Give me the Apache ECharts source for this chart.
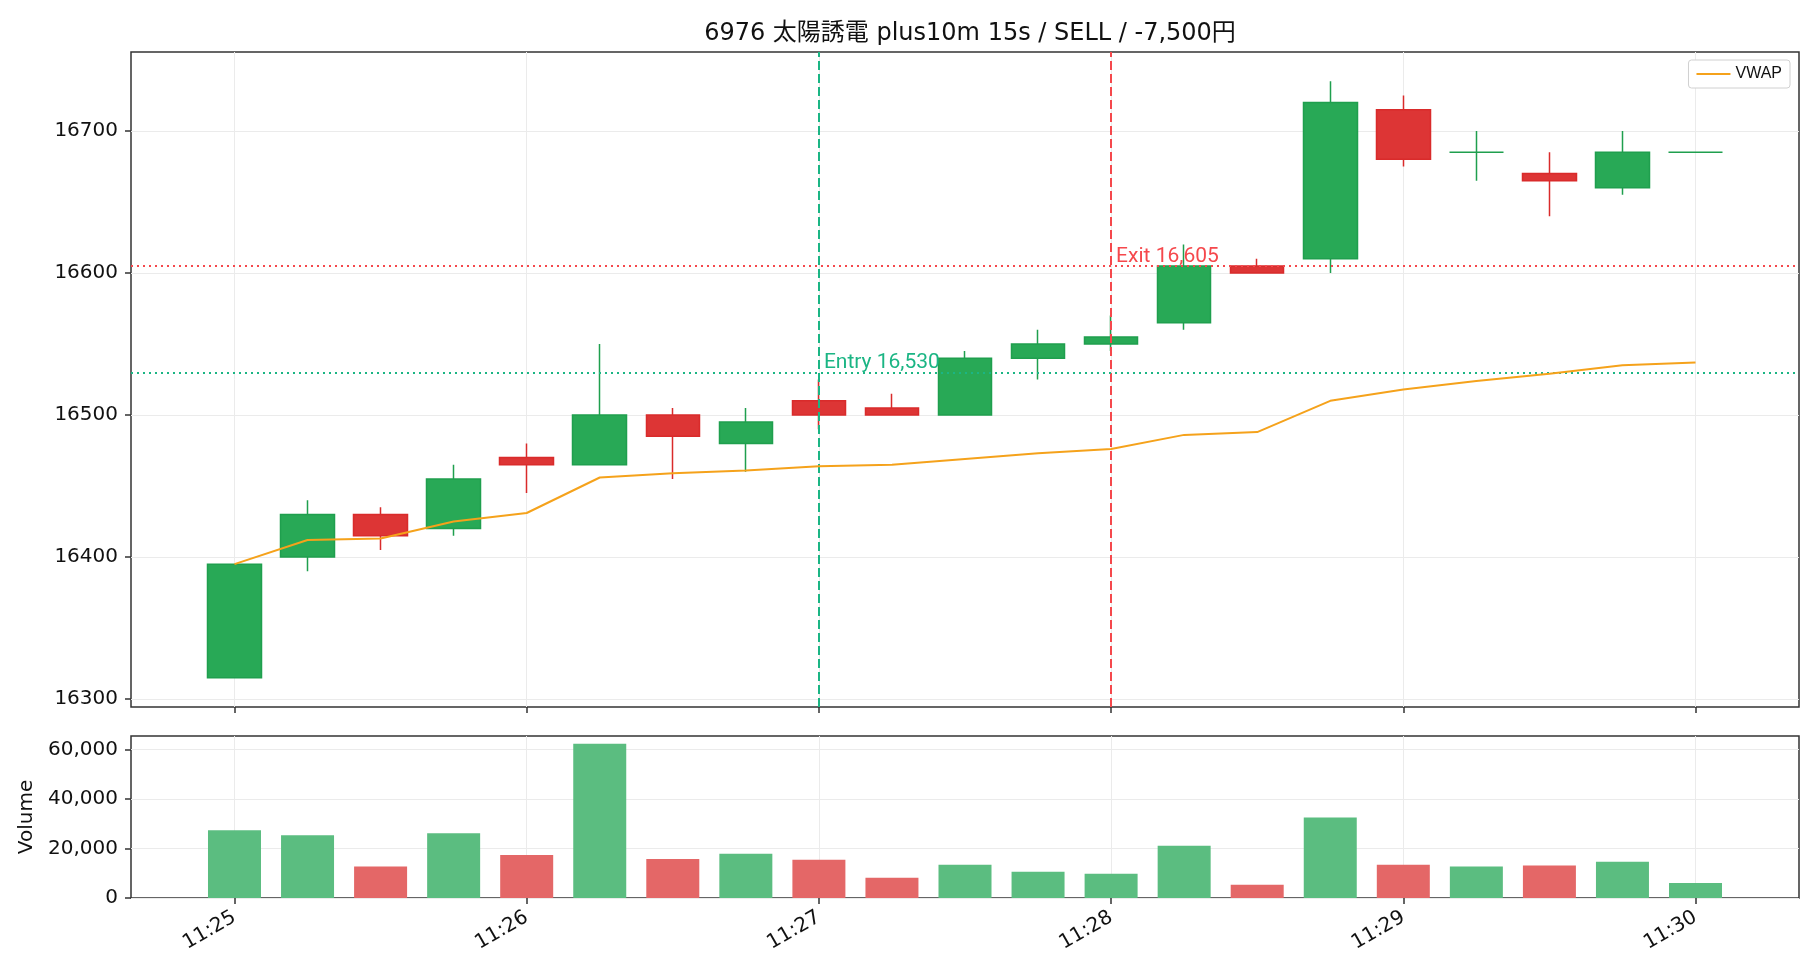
<!DOCTYPE html>
<html>
<head>
<meta charset="utf-8">
<title>6976 plus10m</title>
<script src="https://cdn.jsdelivr.net/npm/echarts@6/dist/echarts.min.js"></script>
<style>
html, body { margin: 0; padding: 0; background: #fff; }
#chart { width: 1820px; height: 980px; }
</style>
</head>
<body>
<div id="chart"></div>
<script>
// 15s bars, 11:25 - 11:30
var times = ['11:25:00', '11:25:15', '11:25:30', '11:25:45', '11:26:00', '11:26:15', '11:26:30',
    '11:26:45', '11:27:00', '11:27:15', '11:27:30', '11:27:45', '11:28:00', '11:28:15',
    '11:28:30', '11:28:45', '11:29:00', '11:29:15', '11:29:30', '11:29:45', '11:30:00'];
var opens  = [16315, 16400, 16430, 16420, 16470, 16465, 16500, 16480, 16510, 16505, 16500,
    16540, 16550, 16565, 16605, 16610, 16715, 16685, 16670, 16660, 16685];
var closes = [16395, 16430, 16415, 16455, 16465, 16500, 16485, 16495, 16500, 16500, 16540,
    16550, 16555, 16605, 16600, 16720, 16680, 16685, 16665, 16685, 16685];
var lows   = [16315, 16390, 16405, 16415, 16445, 16465, 16455, 16460, 16490, 16500, 16500,
    16525, 16545, 16560, 16600, 16600, 16675, 16665, 16640, 16655, 16685];
var highs  = [16395, 16440, 16435, 16465, 16480, 16550, 16505, 16505, 16525, 16515, 16545,
    16560, 16570, 16620, 16610, 16735, 16725, 16700, 16685, 16700, 16685];
var volumes = [27400, 25400, 12700, 26200, 17400, 62400, 15800, 17900, 15500, 8200, 13400,
    10600, 9800, 21100, 5400, 32500, 13400, 12700, 13100, 14700, 6100];
var vwap = [16395, 16412, 16413, 16425, 16431, 16456, 16459, 16461, 16464, 16465, 16469,
    16473, 16476, 16486, 16488, 16510, 16518, 16524, 16529, 16535, 16537];

var priceTicks = [16300, 16400, 16500, 16600, 16700];
var volumeTicks = [0, 20000, 40000, 60000];
var timeTicks = ['11:25', '11:26', '11:27', '11:28', '11:29', '11:30'];

var entryTime = '11:27:00', entryPrice = 16530;
var exitTime = '11:28:00', exitPrice = 16605;
var titleText = '6976 太陽誘電 plus10m 15s / SELL / -7,500円';

var GREEN = '#28a956', RED = '#dd3535';
var VOL_GREEN = '#5bbd80', VOL_RED = '#e46767';
var ENTRY_C = '#1bb584', EXIT_C = '#f5484c';

// seconds since 11:25:00
function toSec(t) {
    var p = t.split(':');
    return (+p[0] * 3600 + +p[1] * 60 + (+p[2] || 0)) - (11 * 3600 + 25 * 60);
}
function fmtTime(v) {
    var m = 25 + Math.round(v / 60);
    return '11:' + (m < 10 ? '0' + m : m);
}
function fmtNum(v) { return Number(v).toLocaleString('en-US'); }

var xs = times.map(toSec);
var tickSecs = timeTicks.map(toSec);

var candleData = [];
var volData = [];
var vwapData = [];
for (var i = 0; i < xs.length; i++) {
    candleData.push([xs[i], opens[i], closes[i], lows[i], highs[i]]);
    var up = closes[i] > opens[i] || (closes[i] === opens[i] && (i === 0 || closes[i - 1] <= closes[i]));
    volData.push({ value: [xs[i], volumes[i]], itemStyle: { color: up ? VOL_GREEN : VOL_RED } });
    vwapData.push([xs[i], vwap[i]]);
}

var FONT = '"DejaVu Sans", "Noto Sans CJK JP", sans-serif';
var xMin = -21.25, xMax = 321.25;
var gridLine = { show: true, lineStyle: { color: '#ebebeb', width: 1 } };
var tickStyle = { show: true, length: 6, lineStyle: { color: '#333', width: 1.5 } };

var option = {
    animation: false,
    textStyle: { fontFamily: FONT },
    title: {
        text: titleText,
        left: 965,
        textAlign: 'center',
        top: 17,
        textStyle: { fontSize: 24, fontWeight: 'normal', color: '#111', fontFamily: FONT }
    },
    legend: {
        data: ['VWAP'],
        right: 30,
        top: 60,
        icon: 'rect',
        itemWidth: 34,
        itemHeight: 2,
        padding: [6, 8, 6, 8],
        borderColor: '#d0d0d0',
        borderWidth: 1,
        borderRadius: 3,
        backgroundColor: '#fff',
        textStyle: { fontSize: 16, color: '#111', fontFamily: 'Liberation Sans, sans-serif' }
    },
    grid: [
        { left: 131, top: 52, width: 1668, height: 655, show: true, borderColor: '#333', borderWidth: 1.5 },
        { left: 131, top: 736, width: 1668, height: 162, show: true, borderColor: '#333', borderWidth: 1.5 }
    ],
    xAxis: [
        {
            type: 'value', gridIndex: 0, min: xMin, max: xMax,
            axisLine: { show: false, onZero: false },
            axisTick: Object.assign({ customValues: tickSecs }, tickStyle),
            axisLabel: { show: false, customValues: tickSecs },
            splitLine: gridLine
        },
        {
            type: 'value', gridIndex: 1, min: xMin, max: xMax,
            axisLine: { show: false, onZero: false },
            axisTick: Object.assign({ customValues: tickSecs }, tickStyle),
            axisLabel: {
                customValues: tickSecs, formatter: fmtTime, rotate: 30,
                fontSize: 20, color: '#111', margin: 18
            },
            splitLine: gridLine
        }
    ],
    yAxis: [
        {
            type: 'value', gridIndex: 0, min: 16294.4, max: 16755.6, scale: true,
            axisLine: { show: false, onZero: false },
            axisTick: Object.assign({ customValues: priceTicks }, tickStyle),
            axisLabel: { customValues: priceTicks, formatter: function (v) { return String(v); },
                fontSize: 20, color: '#111', margin: 13 },
            splitLine: gridLine
        },
        {
            type: 'value', gridIndex: 1, min: 0, max: 65500,
            name: 'Volume', nameLocation: 'middle', nameGap: 90, nameRotate: 90,
            nameTextStyle: { fontSize: 20, color: '#111' },
            axisLine: { show: false, onZero: false },
            axisTick: Object.assign({ customValues: volumeTicks }, tickStyle),
            axisLabel: { customValues: volumeTicks, formatter: fmtNum, fontSize: 20, color: '#111', margin: 13 },
            splitLine: gridLine
        }
    ],
    series: [
        {
            name: 'Price',
            type: 'candlestick',
            xAxisIndex: 0, yAxisIndex: 0,
            barWidth: 54,
            data: candleData,
            itemStyle: {
                color: GREEN, color0: RED,
                borderColor: '#1f9f4e', borderColor0: '#d92b2b',
                borderWidth: 1.5
            },
            markLine: {
                silent: true,
                symbol: 'none',
                label: { show: false },
                data: [
                    { xAxis: toSec(entryTime), lineStyle: { color: ENTRY_C, type: [9, 4], width: 2 } },
                    { xAxis: toSec(exitTime), lineStyle: { color: EXIT_C, type: [9, 4], width: 2 } },
                    { yAxis: entryPrice, lineStyle: { color: ENTRY_C, type: [2, 4], width: 2 } },
                    { yAxis: exitPrice, lineStyle: { color: EXIT_C, type: [2, 4], width: 2 } }
                ]
            },
            markPoint: {
                silent: true,
                symbol: 'circle',
                symbolSize: 0,
                data: [
                    {
                        coord: [toSec(entryTime), entryPrice],
                        label: { show: true, formatter: 'Entry ' + fmtNum(entryPrice), color: ENTRY_C,
                            fontSize: 21, fontFamily: 'Roboto, sans-serif',
                            position: [5, 1], align: 'left', verticalAlign: 'bottom' }
                    },
                    {
                        coord: [toSec(exitTime), exitPrice],
                        label: { show: true, formatter: 'Exit ' + fmtNum(exitPrice), color: EXIT_C,
                            fontSize: 21, fontFamily: 'Roboto, sans-serif',
                            position: [5, 1], align: 'left', verticalAlign: 'bottom' }
                    }
                ]
            }
        },
        {
            name: 'VWAP',
            type: 'line',
            xAxisIndex: 0, yAxisIndex: 0,
            data: vwapData,
            showSymbol: false,
            symbol: 'none',
            z: 5,
            itemStyle: { color: '#f5a21b' },
            lineStyle: { color: '#f5a21b', width: 2 }
        },
        {
            name: 'Volume',
            type: 'bar',
            xAxisIndex: 1, yAxisIndex: 1,
            barWidth: 53,
            data: volData
        }
    ]
};

var myChart = echarts.init(document.getElementById('chart'));
myChart.setOption(option);
</script>
</body>
</html>
